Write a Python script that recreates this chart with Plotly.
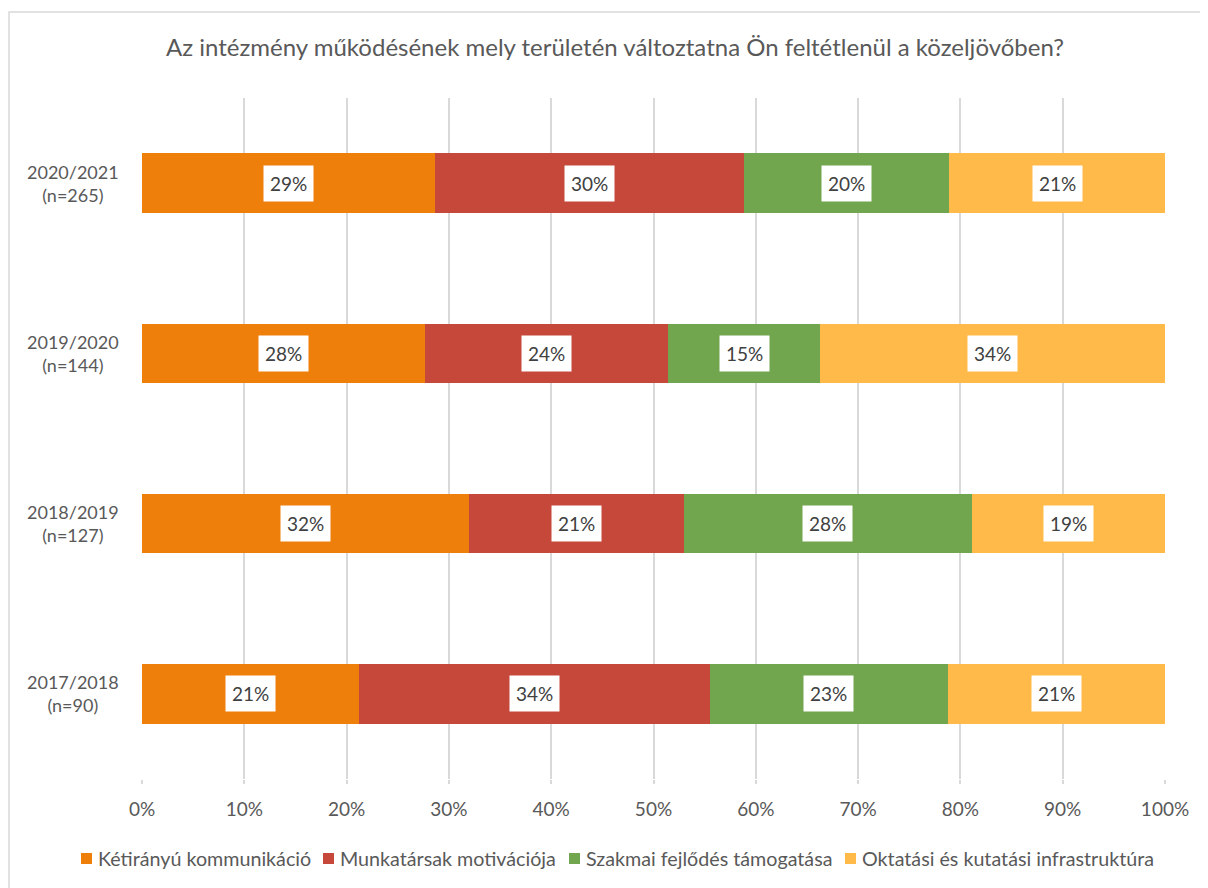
import plotly.graph_objects as go

categories = ["2020/2021", "2019/2020", "2018/2019", "2017/2018"]
sample_sizes = ["(n=265)", "(n=144)", "(n=127)", "(n=90)"]
series_names = ["Kétirányú kommunikáció", "Munkatársak motivációja", "Szakmai fejlődés támogatása", "Oktatási és kutatási infrastruktúra"]
kommunikacio = [28.6, 27.7, 32.0, 21.2]
motivacio = [30.2, 23.7, 21.0, 34.3]
szakmai = [20.1, 14.9, 28.1, 23.3]
infrastruktura = [21.1, 33.7, 18.9, 21.2]
labels = [
    ["29%", "28%", "32%", "21%"],
    ["30%", "24%", "21%", "34%"],
    ["20%", "15%", "28%", "23%"],
    ["21%", "34%", "19%", "21%"],
]
colors = ["#EF7F0B", "#C5483B", "#71A54E", "#FFBA4A"]
x_ticks = [i / 10 for i in range(11)]
x_ticktext = [f"{i*10}%" for i in range(11)]
title = "Az intézmény működésének mely területén változtatna Ön feltétlenül a közeljövőben?"

FONT = "Lato, 'Open Sans', sans-serif"
GRAY = "#595959"

W, H = 1208, 888
ML, MR, MT, MB = 134, 51, 90, 117
PW, PH = W - ML - MR, H - MT - MB


def px_x(px):
    return (px - ML) / PW


def px_y(py):
    return (H - MB - py) / PH


series = [kommunikacio, motivacio, szakmai, infrastruktura]
totals = [sum(v) for v in zip(*series)]
fig = go.Figure()
annotations = []
shapes = []
cum = [0.0] * len(categories)
for name, vals, col, labs in zip(series_names, series, colors, labels):
    frac = [v / t for v, t in zip(vals, totals)]
    fig.add_trace(go.Bar(
        y=categories, x=frac, name=name, orientation="h",
        marker=dict(color=col, line=dict(width=0)),
        width=0.35, hoverinfo="skip", showlegend=False,
    ))
    for j, (c, f, lab) in enumerate(zip(categories, frac, labs)):
        annotations.append(dict(
            x=cum[j] + f / 2, y=c, xref="x", yref="y", text=lab, showarrow=False,
            bgcolor="white", borderpad=6,
            font=dict(family=FONT, size=19, color="#404040"),
        ))
        cum[j] += f

# centred category labels (two lines)
for c, n in zip(categories, sample_sizes):
    annotations.append(dict(
        x=px_x(65), y=c, xref="paper", yref="y", text=f"{c}<br>{n}", showarrow=False,
        xanchor="center", yanchor="middle", align="center",
        font=dict(family=FONT, size=18, color=GRAY),
    ))

# legend drawn in a single row like the original
legend_marker_px = [73, 315, 561, 837]
legend_y = 850.5
for name, col, mx in zip(series_names, colors, legend_marker_px):
    shapes.append(dict(type="rect", xref="paper", yref="paper",
                       x0=px_x(mx), x1=px_x(mx + 11),
                       y0=px_y(legend_y + 5.5), y1=px_y(legend_y - 5.5),
                       fillcolor=col, line=dict(width=0)))
    annotations.append(dict(
        x=px_x(mx + 15), y=px_y(legend_y), xref="paper", yref="paper", text=name,
        showarrow=False, xanchor="left", yanchor="middle",
        font=dict(family=FONT, size=19.7, color=GRAY),
    ))

shapes.append(dict(type="rect", xref="paper", yref="paper",
                   x0=px_x(1), x1=px_x(1300), y0=px_y(1000), y1=px_y(4),
                   line=dict(color="#D9D9D9", width=1.5), fillcolor="rgba(0,0,0,0)",
                   layer="below"))

fig.update_layout(
    width=W, height=H,
    barmode="stack",
    paper_bgcolor="white", plot_bgcolor="white",
    margin=dict(l=ML, r=MR, t=MT, b=MB, autoexpand=False),
    title=dict(text=title, x=0.5025, xanchor="center", y=0.955, yanchor="middle",
               font=dict(family=FONT, size=24, color=GRAY)),
    xaxis=dict(range=[0, 1], tickvals=x_ticks, ticktext=x_ticktext,
               showgrid=True, gridcolor="#D9D9D9", gridwidth=1.5,
               zeroline=False, showline=False,
               ticks="outside", ticklen=4, tickcolor="#D9D9D9", tickwidth=1.5,
               ticklabelstandoff=9,
               tickfont=dict(family=FONT, size=19, color=GRAY),
               fixedrange=True),
    yaxis=dict(categoryorder="array", categoryarray=categories[::-1],
               showgrid=False, zeroline=False, showline=False,
               showticklabels=False, ticks=""),
    showlegend=False,
    annotations=annotations,
    shapes=shapes,
)
fig.write_html("out.html")
